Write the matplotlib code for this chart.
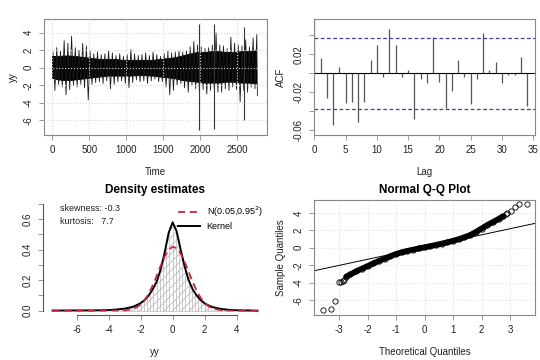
import numpy as np
import matplotlib.pyplot as plt
from matplotlib.lines import Line2D

plt.rcParams['font.family'] = ['Liberation Sans', 'DejaVu Sans']
plt.rcParams['hatch.linewidth'] = 0.5
plt.rcParams['axes.unicode_minus'] = False

# ---- time series: per-50 bin extremes, core band per 100, big spikes
ts_bin_width = 50
ts_hi = [1.8, 2.3, 1.9, 3.1, 2.8, 3.6, 2.3, 2.0, 2.8, 2.5,
         1.9, 1.6, 1.8, 1.5, 1.6, 1.9, 1.7, 1.4, 1.6, 1.3,
         1.5, 2.1, 1.6, 1.4, 1.5, 1.7, 1.4, 1.8, 1.5, 1.3,
         1.6, 1.9, 1.7, 1.8, 1.9, 1.8, 2.0, 2.4, 3.0, 2.6,
         2.4, 2.2, 2.3, 2.6, 4.0, 2.6, 2.5, 2.2, 3.5, 2.8,
         2.6, 2.5, 3.2, 2.4, 3.4, 3.8]
ts_lo = [-2.6, -1.9, -2.2, -3.1, -2.5, -2.0, -2.2, -1.9, -2.3, -3.7,
         -1.9, -1.7, -1.6, -1.8, -1.5, -2.4, -1.9, -1.6, -1.5, -1.8,
         -2.3, -1.7, -1.4, -1.6, -1.5, -1.8, -1.5, -1.3, -1.6, -1.6,
         -2.2, -3.1, -2.6, -2.0, -1.8, -2.3, -2.8, -2.0, -2.4, -2.7,
         -2.5, -3.0, -2.6, -2.4, -2.8, -2.8, -2.4, -2.6, -2.2, -2.5,
         -3.9, -2.6, -2.8, -2.2, -2.4, -3.2]
core_width = 100
core_hi = [1.3, 1.4, 1.4, 1.3, 1.2, 1.1, 1.0, 1.0, 1.0, 0.9,
           0.9, 0.9, 0.9, 0.9, 1.0, 1.1, 1.2, 1.4, 1.6, 1.8,
           1.8, 1.9, 1.9, 1.8, 1.8, 1.9, 1.9, 2.0]
core_lo = [-1.3, -1.4, -1.4, -1.3, -1.2, -1.1, -1.0, -0.9, -0.9, -0.9,
           -0.9, -0.85, -0.85, -0.9, -1.0, -1.1, -1.2, -1.4, -1.5, -1.6,
           -1.7, -1.7, -1.7, -1.6, -1.6, -1.7, -1.7, -1.8]
spike_t = [1980, 2191, 2590]
spike_hi = [5.0, 5.0, 4.7]
spike_lo = [-7.1, -7.0, -6.0]
n_obs = 2770

# ---- ACF
lags = list(range(0, 35))
acf = [1.0, 0.0158, -0.0263, -0.054, 0.007, -0.0316, -0.030, -0.0516, -0.0305, 0.0137,
       0.0298, -0.0035, 0.047, 0.0298, -0.004, 0.003, -0.048, -0.006, -0.0105, 0.038,
       -0.009, -0.037, -0.0186, 0.014, -0.004, -0.0326, -0.006, 0.043, 0.003, 0.0123,
       -0.0105, -0.002, -0.002, 0.0175, -0.034]
conf = 0.0372

# ---- density
hist_centers = [-3.3, -3.1, -2.9, -2.7, -2.5, -2.3, -2.1, -1.9, -1.7, -1.5, -1.3, -1.1,
                -0.9, -0.7, -0.5, -0.3, -0.1, 0.1, 0.3, 0.5, 0.7, 0.9, 1.1, 1.3, 1.5,
                1.7, 1.9, 2.1, 2.3, 2.5, 2.7, 2.9, 3.1, 3.3]
hist_heights = [0.009, 0.012, 0.016, 0.020, 0.026, 0.033, 0.042, 0.055, 0.075, 0.095,
                0.125, 0.165, 0.215, 0.285, 0.37, 0.47, 0.55, 0.56, 0.47, 0.38, 0.29,
                0.22, 0.17, 0.13, 0.10, 0.075, 0.055, 0.042, 0.032, 0.025, 0.018,
                0.014, 0.011, 0.008]
dens_x = [-7.5, -6.0, -5.0, -4.0, -3.5, -3.0, -2.5, -2.25, -2.0, -1.75, -1.5, -1.25, -1.0,
          -0.75, -0.5, -0.25, 0.0, 0.25, 0.5, 0.75, 1.0, 1.25, 1.5, 1.75, 2.0, 2.25,
          2.5, 3.0, 3.5, 4.0, 5.0, 5.3]
kernel_y = [0.001, 0.002, 0.002, 0.004, 0.008, 0.014, 0.025, 0.036, 0.05, 0.07, 0.10,
            0.14, 0.19, 0.27, 0.38, 0.51, 0.58, 0.52, 0.40, 0.29, 0.20, 0.14, 0.10, 0.07,
            0.048, 0.034, 0.024, 0.012, 0.006, 0.003, 0.001, 0.0]
normal_y = [0.0, 0.0, 0.0, 0.0, 0.0005, 0.0024, 0.0115, 0.022, 0.041, 0.070, 0.111,
            0.165, 0.228, 0.295, 0.355, 0.399, 0.419, 0.411, 0.375, 0.320, 0.255, 0.189,
            0.131, 0.085, 0.051, 0.029, 0.015, 0.0034, 0.0006, 0.0, 0.0, 0.0]

# ---- QQ
qq_theo = [-2.75, -2.6, -2.4, -2.2, -2.0, -1.8, -1.6, -1.4, -1.2, -1.0, -0.8, -0.6, -0.4,
           -0.2, 0.0, 0.2, 0.4, 0.6, 0.8, 1.0, 1.2, 1.4, 1.6, 1.8, 2.0, 2.2, 2.4, 2.6, 2.75]
qq_samp = [-3.3, -3.05, -2.7, -2.4, -2.1, -1.8, -1.5, -1.25, -0.97, -0.72, -0.52, -0.36,
           -0.22, -0.08, 0.05, 0.18, 0.32, 0.47, 0.62, 0.8, 0.98, 1.2, 1.45, 1.8, 2.2,
           2.6, 2.95, 3.3, 3.6]
tail_theo = [-3.58, -3.27, -3.13, -3.02, -2.95, -2.88, -2.83, 2.85, 2.9, 3.03, 3.18, 3.30, 3.59]
tail_samp = [-7.1, -7.05, -6.05, -3.95, -3.92, -3.8, -3.65, 3.85, 4.0, 4.2, 4.7, 5.0, 5.0]
qq_intercept = 0.08
qq_slope = 0.70

txt = '#222222'
box = '#888888'


def style(ax, spine_col=box):
    for s in ax.spines.values():
        s.set_color(spine_col)
        s.set_linewidth(0.8)
    ax.tick_params(labelsize=7, length=3.5, width=0.6, colors=box, labelcolor=txt, pad=4)
    for lab in ax.get_yticklabels():
        lab.set_rotation(90)
        lab.set_va('center')


fig = plt.figure(figsize=(5.4, 3.6), dpi=100)

# time series: zigzag through the bin extremes over a solid core band
ax1 = fig.add_axes([0.0815, 0.625, 0.413, 0.322])
start = np.arange(len(ts_hi)) * ts_bin_width
zz_t = np.column_stack([start + 12, start + 37]).ravel()
zz_y = np.column_stack([ts_hi, ts_lo]).ravel()
ax1.plot(np.clip(zz_t, 0, n_obs), zz_y, color='#1a1a1a', lw=0.6)
ctime = np.arange(len(core_hi)) * core_width + core_width / 2
ax1.fill_between(ctime, core_hi, core_lo, color='black', lw=0.6, edgecolor='black')
ax1.fill_between([0, ctime[0]], core_hi[0], core_lo[0], color='black', lw=0)
ax1.fill_between([ctime[-1], n_obs], core_hi[-1], core_lo[-1], color='black', lw=0)
ax1.vlines(spike_t, spike_lo, spike_hi, color='#333333', lw=0.8)
ax1.set_xlim(-110, 2900)
ax1.set_ylim(-7.7, 5.57)
ax1.set_xticks([0, 500, 1000, 1500, 2000, 2500])
ax1.set_yticks([-6, -4, -2, 0, 2, 4])
ax1.grid(color='#d8d8d8', linestyle=':', lw=0.8)
ax1.set_axisbelow(False)
ax1.set_xlabel('Time', fontsize=7, color=txt, labelpad=8)
ax1.set_ylabel('yy', fontsize=7, color=txt, labelpad=4)
style(ax1)

# ACF
ax2 = fig.add_axes([0.581, 0.625, 0.41, 0.322])
ax2.vlines(lags, 0, acf, color='#555555', lw=0.9)
ax2.axhline(0, color='black', lw=0.8)
for c in (conf, -conf):
    ax2.axhline(c, color='#4040a0', lw=0.9, dashes=(3, 2))
ax2.set_xlim(-0.1, 35.3)
ax2.set_ylim(-0.065, 0.0572)
ax2.set_xticks([0, 5, 10, 15, 20, 25, 30, 35])
ax2.set_yticks([-0.06, -0.04, -0.02, 0.0, 0.02, 0.04])
ax2.set_yticklabels(['-0.06', '', '-0.02', '', '0.02', ''])
ax2.set_xlabel('Lag', fontsize=7, color=txt, labelpad=8)
ax2.set_ylabel('ACF', fontsize=7, color=txt, labelpad=5)
style(ax2)

# density
ax3 = fig.add_axes([0.0796, 0.125, 0.415, 0.319])
ax3.bar(hist_centers, hist_heights, width=0.2, color='white', edgecolor='#b0b0b0',
        hatch='////', lw=0.4)
ax3.plot(dens_x, kernel_y, color='black', lw=1.4)
ax3.plot(dens_x, normal_y, color='#c8283c', lw=1.3, dashes=(4, 2.5))
ax3.set_xlim(-8.1, 5.9)
ax3.set_ylim(-0.028, 0.725)
for s in ('top', 'right'):
    ax3.spines[s].set_visible(False)
ax3.spines['left'].set_bounds(0, 0.7)
ax3.spines['bottom'].set_bounds(-6, 4)
ax3.set_xticks([-6, -4, -2, 0, 2, 4])
ax3.set_yticks([0.0, 0.1, 0.2, 0.3, 0.4, 0.5, 0.6, 0.7])
ax3.set_yticklabels(['0.0', '', '0.2', '', '0.4', '', '0.6', ''])
ax3.set_xlabel('yy', fontsize=7, color=txt, labelpad=8)
ax3.set_title('Density estimates', fontsize=8.5, fontweight='bold', color='black', pad=5)
ax3.text(-7.05, 0.668, 'skewness: -0.3', fontsize=6.5, color=txt, va='center')
ax3.text(-7.05, 0.585, 'kurtosis:   7.7', fontsize=6.5, color=txt, va='center')
handles = [Line2D([], [], color='#c8283c', lw=1.3, dashes=(4, 2.5)),
           Line2D([], [], color='black', lw=1.4)]
ax3.legend(handles, ['N(0.05,0.95$^2$)', 'Kernel'], loc='upper right', frameon=False,
           fontsize=6.5, handlelength=2.4, borderaxespad=0.1, labelspacing=0.3,
           bbox_to_anchor=(1.0, 1.0))
style(ax3, spine_col='#555555')

# QQ
ax4 = fig.add_axes([0.581, 0.125, 0.41, 0.319])
ax4.plot(qq_theo, qq_samp, color='black', lw=4.2, solid_capstyle='round')
ax4.plot(qq_theo, qq_samp, 'o', mfc='none', mec='black', ms=3.8, mew=0.6)
ax4.plot(tail_theo, tail_samp, 'o', mfc='none', mec='black', ms=3.8, mew=0.6)
ax4.axline((0, qq_intercept), slope=qq_slope, color='black', lw=0.7)
ax4.set_xlim(-3.89, 3.88)
ax4.set_ylim(-7.7, 5.45)
ax4.set_xticks([-3, -2, -1, 0, 1, 2, 3])
ax4.set_yticks([-6, -4, -2, 0, 2, 4])
ax4.grid(color='#e0e0e0', linestyle=':', lw=0.8)
ax4.set_xlabel('Theoretical Quantiles', fontsize=7, color=txt, labelpad=8)
ax4.set_ylabel('Sample Quantiles', fontsize=7, color=txt, labelpad=5)
ax4.set_title('Normal Q-Q Plot', fontsize=8.5, fontweight='bold', color='black', pad=5)
style(ax4)

fig.savefig('out.png', dpi=100)
